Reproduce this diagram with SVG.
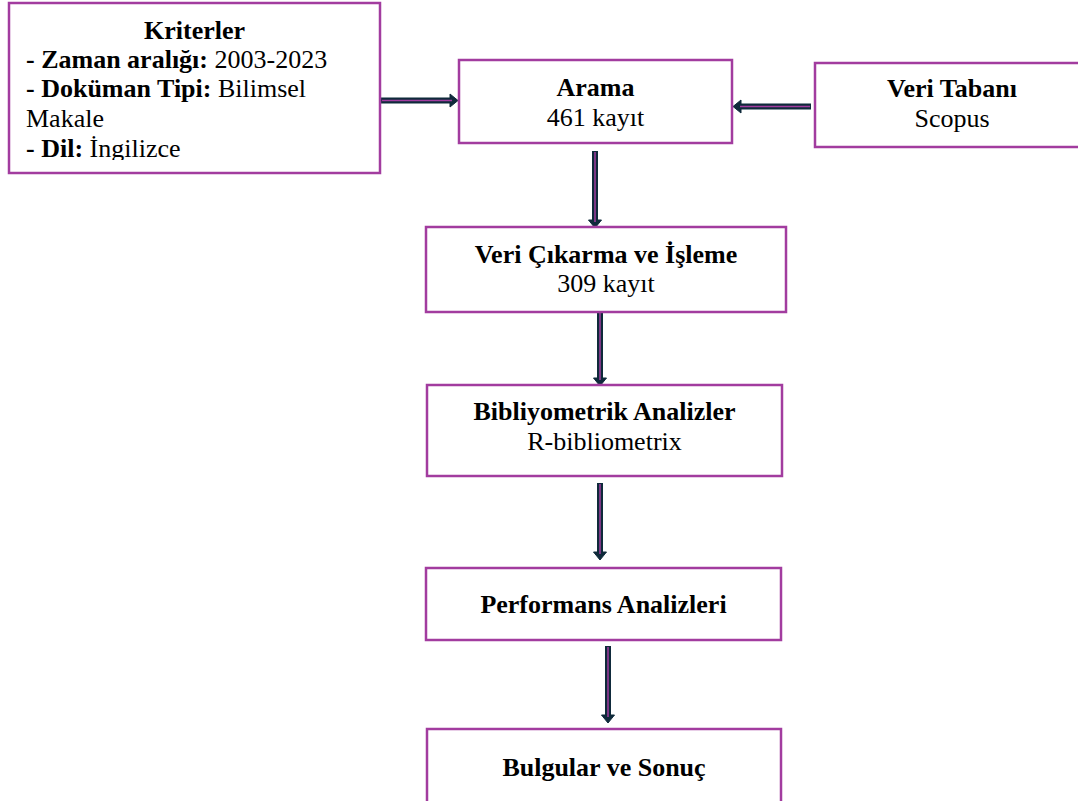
<svg xmlns="http://www.w3.org/2000/svg" width="1078" height="801" viewBox="0 0 1078 801">
<defs>
<style>
.box{fill:#fff;stroke:#a23c9f;stroke-width:2.5}
text{font-family:'Liberation Serif','Times New Roman','DejaVu Serif',serif;font-size:26px;fill:#000}
.b{font-weight:bold}
.c{text-anchor:middle}
.shaft{stroke:#0f2a3b;stroke-width:6;fill:none}
.inner{stroke:#a23c9f;stroke-width:1.5;fill:none}
.head{fill:#0f2a3b;stroke:#0f2a3b;stroke-width:1;stroke-linejoin:miter}
</style>
<clipPath id="kclip"><rect x="10" y="4" width="368" height="156"/></clipPath>
</defs>
<rect width="1078" height="801" fill="#fff"/>

<g id="connectors">
  <g id="c1">
    <line class="shaft" x1="381" y1="100.5" x2="451" y2="100.5"/>
    <polygon class="head" points="458,100.5 450,94 450,107"/>
    <line class="inner" x1="382" y1="100.5" x2="452" y2="100.5"/>
  </g>
  <g id="c2">
    <line class="shaft" x1="811" y1="106.5" x2="741" y2="106.5"/>
    <polygon class="head" points="733,106.5 741,100 741,113"/>
    <line class="inner" x1="810" y1="106.5" x2="740" y2="106.5"/>
  </g>
  <g id="c3">
    <line class="shaft" x1="595" y1="151" x2="595" y2="221"/>
    <polygon class="head" points="595,228 588.5,220 601.5,220"/>
    <line class="inner" x1="595" y1="152" x2="595" y2="222"/>
  </g>
  <g id="c4">
    <line class="shaft" x1="600" y1="312" x2="600" y2="379"/>
    <polygon class="head" points="600,386 593.5,378 606.5,378"/>
    <line class="inner" x1="600" y1="313" x2="600" y2="380"/>
  </g>
  <g id="c5">
    <line class="shaft" x1="600" y1="483" x2="600" y2="553"/>
    <polygon class="head" points="600,560 593.5,552 606.5,552"/>
    <line class="inner" x1="600" y1="484" x2="600" y2="554"/>
  </g>
  <g id="c6">
    <line class="shaft" x1="608" y1="646" x2="608" y2="716"/>
    <polygon class="head" points="608,723 601.5,715 614.5,715"/>
    <line class="inner" x1="608" y1="647" x2="608" y2="717"/>
  </g>
</g>

<g id="kriterler">
  <rect class="box" x="9" y="3" width="371" height="170"/>
  <g clip-path="url(#kclip)">
    <text class="b c" x="194.5" y="39">Kriterler</text>
    <text x="26" y="68"><tspan class="b">- Zaman aralığı:</tspan> 2003-2023</text>
    <text x="26" y="97"><tspan class="b">- Doküman Tipi:</tspan> Bilimsel</text>
    <text x="26" y="127">Makale</text>
    <text x="26" y="157"><tspan class="b">- Dil:</tspan> İngilizce</text>
  </g>
</g>

<g id="arama">
  <rect class="box" x="459" y="60" width="273" height="83"/>
  <text class="b c" x="595.5" y="96">Arama</text>
  <text class="c" x="595.5" y="126">461 kayıt</text>
</g>

<g id="veritabani">
  <rect class="box" x="815" y="63" width="275" height="84"/>
  <text class="b c" x="952" y="97">Veri Tabanı</text>
  <text class="c" x="952" y="127">Scopus</text>
</g>

<g id="vericikarma">
  <rect class="box" x="426" y="227" width="360" height="85"/>
  <text class="b c" x="606" y="263">Veri Çıkarma ve İşleme</text>
  <text class="c" x="606" y="292">309 kayıt</text>
</g>

<g id="bibliyometrik">
  <rect class="box" x="427" y="385" width="355" height="91"/>
  <text class="b c" x="604.5" y="420">Bibliyometrik Analizler</text>
  <text class="c" x="604.5" y="450">R-bibliometrix</text>
</g>

<g id="performans">
  <rect class="box" x="426" y="568" width="355" height="72"/>
  <text class="b c" x="603.5" y="613">Performans Analizleri</text>
</g>

<g id="bulgular">
  <rect class="box" x="427" y="729" width="354" height="100"/>
  <text class="b c" x="604" y="776">Bulgular ve Sonuç</text>
</g>
</svg>
